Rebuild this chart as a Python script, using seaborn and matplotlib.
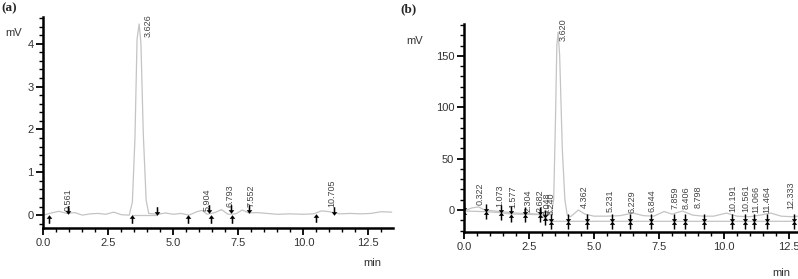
import matplotlib
matplotlib.use("Agg")
import matplotlib.pyplot as plt
import seaborn as sns
from matplotlib.path import Path
from matplotlib.ticker import MultipleLocator, FormatStrFormatter

# ---- panel (a) data ----
sig_a_t = [0, 0.3, 0.6, 0.9, 1.2, 1.5, 1.8, 2.1, 2.4, 2.7, 3.0, 3.3, 3.42, 3.52, 3.6, 3.68, 3.75,
           3.84, 3.95, 4.05, 4.4, 4.7, 5.0, 5.3, 5.6, 5.9, 6.1, 6.3, 6.6, 6.85, 7.1, 7.4, 7.65,
           7.9, 8.2, 8.6, 9.0, 9.5, 10.0, 10.4, 10.7, 11.0, 11.4, 11.8, 12.2, 12.6, 13.0, 13.4]
sig_a_y = [0.0, 0.05, 0.09, 0.04, 0.06, 0.0, 0.03, 0.04, 0.02, 0.07, 0.01, 0.0, 0.3, 1.8, 4.1, 4.46,
           4.0, 1.9, 0.35, 0.04, 0.02, 0.05, 0.02, 0.04, 0.0, 0.08, 0.11, 0.02, 0.06, 0.13, 0.02,
           0.03, 0.12, 0.05, 0.06, 0.04, 0.02, 0.03, 0.02, 0.03, 0.1, 0.08, 0.03, 0.04, 0.03, 0.04,
           0.08, 0.07]
start_a_t = [0.22, 3.39, 5.57, 6.44, 7.26, 10.48]
start_a_y = [0.0, 0.0, 0.0, 0.0, 0.0, 0.03]
end_a_t = [0.95, 4.38, 6.37, 7.22, 7.92, 11.18]
end_a_y = [0.02, 0.0, 0.05, 0.05, 0.04, 0.0]
lab_a = ["0.561", "3.626", "5.904", "6.793", "7.552", "10.705"]
lab_a_t = [0.95, 4.03, 6.30, 7.17, 7.97, 11.10]
lab_a_y = [0.09, 4.16, 0.09, 0.18, 0.18, 0.2]

# ---- panel (b) data ----
sig_b_t = [0, 0.3, 0.55, 0.8, 1.2, 1.6, 2.0, 2.4, 2.8, 3.1, 3.35, 3.45, 3.52, 3.57, 3.62, 3.68,
           3.78, 3.88, 3.97, 4.1, 4.4, 4.65, 5.0, 5.5, 6.0, 6.5, 6.9, 7.3, 7.7, 8.0, 8.4, 8.8,
           9.2, 9.6, 10.1, 10.5, 11.0, 11.4, 11.8, 12.2, 12.6, 12.9]
sig_b_y = [-1, 2, 3, 0, -1, -2, -3, -3.5, -4, -4.5, -4.5, 10, 90, 160, 173, 150, 60, 10, -5,
           -6.5, 0, -4, -6, -6, -5.5, -3, -5.5, -6, -1.5, -4, -1, -5, -6, -6, -3, -6, -6.5, -5,
           -3, -6, -6.5, -6]
mark_b_t = [0.0, 0.83, 1.41, 1.80, 2.36, 2.91, 3.10, 3.33, 4.00, 4.73, 5.70, 6.37, 7.18, 8.08,
            8.49, 9.23, 10.32, 10.80, 11.14, 11.65, 12.69]
mark_b_y = [-1, -1.6, -2.6, -3.9, -4.2, -4.5, -7.5, -11, -11, -11, -11, -11, -11, -11, -11,
            -11, -11, -11, -11, -11, -11]
lab_b = ["0.322", "1.073", "1.577", "2.304", "2.682", "3.048", "3.240", "3.620", "4.362", "5.231",
         "6.229", "6.844", "7.859", "8.406", "8.798", "10.191", "10.561", "11.066", "11.464", "12.333"]
lab_b_t = [0.62, 1.38, 1.86, 2.47, 2.92, 3.20, 3.37, 3.82, 4.63, 5.62, 6.45, 7.22, 8.12, 8.56,
           9.01, 10.36, 10.85, 11.22, 11.64, 12.57]
lab_b_y = [5, 3, 2, -1.6, -1.6, -5, -5, 164, 2, -1.6, -2.6, -1.6, 0.6, 0.6, 2, -1.6, -1.6,
           -2.6, -2.6, 0.6]

sns.set_style("ticks")
plt.rcParams['font.family'] = ['Liberation Sans', 'DejaVu Sans']

# arrow markers (filled shaft + head)
up_verts = [(0, 0.5), (0.33, 0.08), (0.09, 0.08), (0.09, -0.5), (-0.09, -0.5),
            (-0.09, 0.08), (-0.33, 0.08), (0, 0.5)]
up_arrow = Path(up_verts, closed=True)
down_arrow = Path([(x, -y) for x, y in up_verts], closed=True)

fig = plt.figure(figsize=(7.98, 2.79), dpi=100)
ax_a = fig.add_axes([0.0545, 0.1828, 0.438, 0.756])
ax_b = fig.add_axes([0.5815, 0.1685, 0.4185, 0.7455])

line_col = '#c4c4c4'
txt_col = '#333333'


def style_axis(ax, xmax, ylim, ymaj, ymin):
    ax.set_xlim(0, xmax)
    ax.set_ylim(*ylim)
    for s in ['top', 'right']:
        ax.spines[s].set_visible(False)
    for s in ['left', 'bottom']:
        ax.spines[s].set_linewidth(1.8)
        ax.spines[s].set_color('black')
    ax.xaxis.set_major_locator(MultipleLocator(2.5))
    ax.xaxis.set_minor_locator(MultipleLocator(0.5))
    ax.yaxis.set_major_locator(MultipleLocator(ymaj))
    ax.yaxis.set_minor_locator(MultipleLocator(ymin))
    ax.xaxis.set_major_formatter(FormatStrFormatter('%.1f'))
    ax.tick_params(which='major', length=5, width=1.3, color='black',
                   labelsize=8, labelcolor=txt_col, pad=2)
    ax.tick_params(which='minor', length=3, width=1.0, color='black')
    ax.set_xlabel('')
    ax.set_ylabel('')


# panel (a)
sns.lineplot(x=sig_a_t, y=sig_a_y, ax=ax_a, color=line_col, lw=0.9)
sns.lineplot(x=start_a_t[1:2] + end_a_t[1:2], y=start_a_y[1:2] + end_a_y[1:2],
             ax=ax_a, color=line_col, lw=0.9)
off_a = 0.095
sns.scatterplot(x=start_a_t, y=[v - off_a for v in start_a_y], ax=ax_a,
                marker=up_arrow, s=38, color='black', linewidth=0, zorder=5)
sns.scatterplot(x=end_a_t, y=[v + off_a for v in end_a_y], ax=ax_a,
                marker=down_arrow, s=38, color='black', linewidth=0, zorder=5)
for t, y, s in zip(lab_a_t, lab_a_y, lab_a):
    ax_a.text(t, y, s, rotation=90, ha='center', va='bottom', fontsize=6.5, color='#444444')
style_axis(ax_a, 13.45, (-0.3, 4.62), 1, 0.2)

# panel (b)
sns.lineplot(x=sig_b_t, y=sig_b_y, ax=ax_b, color=line_col, lw=0.9)
sns.lineplot(x=mark_b_t, y=mark_b_y, ax=ax_b, color=line_col, lw=0.9)
off_b = 3.5
sns.scatterplot(x=mark_b_t, y=[v + off_b for v in mark_b_y], ax=ax_b,
                marker=down_arrow, s=34, color='black', linewidth=0, zorder=5)
sns.scatterplot(x=mark_b_t, y=[v - off_b for v in mark_b_y], ax=ax_b,
                marker=up_arrow, s=34, color='black', linewidth=0, zorder=5)
for t, y, s in zip(lab_b_t, lab_b_y, lab_b):
    ax_b.text(t, y, s, rotation=90, ha='center', va='bottom', fontsize=6.5, color='#444444')
style_axis(ax_b, 12.85, (-21.4, 181), 50, 10)

# labels around the panels
fig.text(1 / 798, 1 - 2 / 279, '(a)', family=['Liberation Serif', 'DejaVu Serif'],
         fontweight='bold', fontsize=9.5, ha='left', va='top')
fig.text(400 / 798, 1 - 3 / 279, '(b)', family=['Liberation Serif', 'DejaVu Serif'],
         fontweight='bold', fontsize=9.5, ha='left', va='top')
fig.text(13.5 / 798, 1 - 33.5 / 279, 'mV', fontsize=8, color=txt_col, ha='center', va='center')
fig.text(414.5 / 798, 1 - 40.5 / 279, 'mV', fontsize=8, color=txt_col, ha='center', va='center')
fig.text(372.5 / 798, 1 - 263.5 / 279, 'min', fontsize=8, color=txt_col, ha='center', va='center')
fig.text(781 / 798, 1 - 272.5 / 279, 'min', fontsize=8, color=txt_col, ha='center', va='center')

fig.savefig('out.png', dpi=100, facecolor='white')
